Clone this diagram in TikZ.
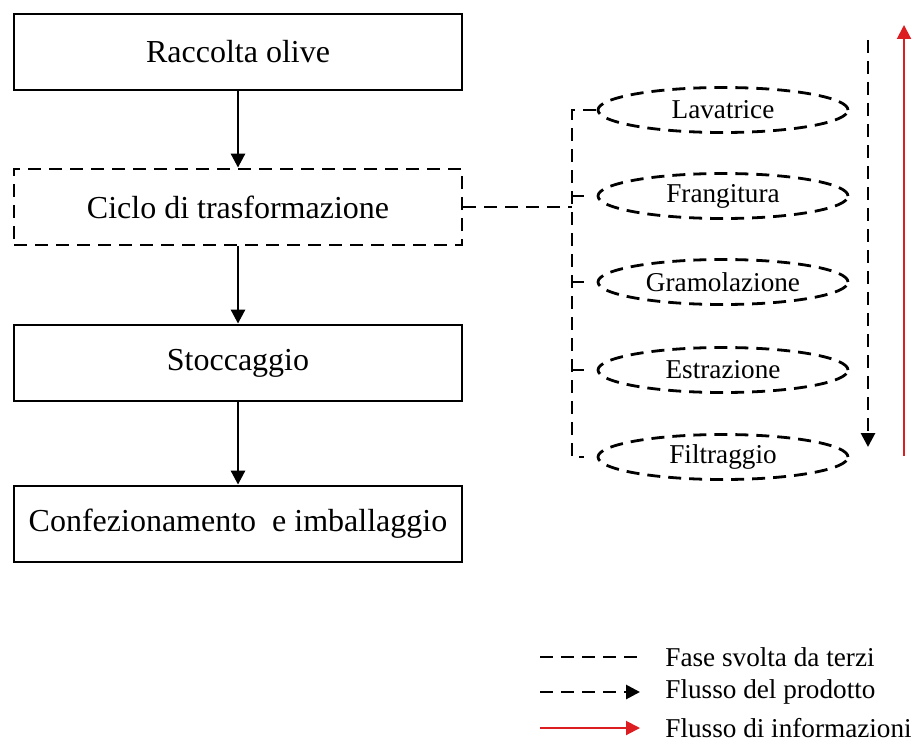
\documentclass[tikz,border=0pt]{standalone}
\usepackage{fontspec}
\setmainfont{Liberation Serif}
\usetikzlibrary{arrows.meta,shapes.geometric}
\definecolor{infored}{RGB}{220,30,35}
\tikzset{
  stage/.style={draw,line width=1.4pt,minimum width=224pt,minimum height=38pt,inner sep=0pt,font=\fontsize{16}{19}\selectfont},
  thirdparty/.style={dash pattern=on 6.5pt off 4pt},
  phase/.style={ellipse,draw,thirdparty,line width=1.4pt,minimum width=125pt,minimum height=22.5pt,inner sep=0pt,font=\fontsize{13.6}{16}\selectfont},
  flow/.style={-{Triangle[length=7pt,width=7pt]},line width=1.4pt},
  keytext/.style={anchor=west,inner sep=0pt,font=\fontsize{13.6}{16}\selectfont}
}
\begin{document}
\begin{tikzpicture}[x=0.5pt,y=-0.5pt]
\useasboundingbox (0,0) rectangle (914,749);

% main chain
\node[stage] (raccolta) at (238,52) {Raccolta olive};
\node[stage,thirdparty] (ciclo) at (238,207) {Ciclo di trasformazione};
\node[stage] (stoccaggio) at (238,363) {Stoccaggio};
\node[stage] (confez) at (238,524) {Confezionamento\ \ e imballaggio};
\draw[flow] (raccolta) -- (ciclo);
\draw[flow] (ciclo) -- (stoccaggio);
\draw[flow] (stoccaggio) -- (confez);

% phases of the cycle
\node[phase] (lav) at (723,110) {Lavatrice};
\node[phase] (fra) at (723,196) {Frangitura};
\node[phase] (gra) at (723,282) {Gramolazione};
\node[phase] (est) at (723,370) {Estrazione};
\node[phase] (fil) at (723,457) {Filtraggio};

\coordinate (rail) at (572,0);
\draw[thirdparty,line width=1.4pt] ([xshift=12]rail |- lav) -- (rail |- lav) -- (rail |- fil) -- ++(12,0);
\foreach \p in {fra,gra,est}
  \draw[thirdparty,line width=1.4pt] (rail |- \p) -- ++(12,0);
\draw[thirdparty,line width=1.4pt] (ciclo.east) -- (rail |- ciclo.east);

% flows
\coordinate (pstart) at (868,40);
\coordinate (pend) at (868,447);
\draw[flow,thirdparty] (pstart) -- (pend);
\coordinate (istart) at (904,456);
\coordinate (iend) at (904,25);
\draw[flow,infored,line width=1pt] (istart) -- (iend);

% legend
\node[keytext] (key1) at (665,657) {Fase svolta da terzi};
\node[keytext] (key2) at (665,692) {Flusso del prodotto};
\node[keytext] (key3) at (665,728) {Flusso di informazioni};
\coordinate (k1) at (540,657);
\coordinate (k2) at (540,692);
\coordinate (k3) at (540,728);
\draw[thirdparty,line width=1.4pt] (k1) -- ++(100,0);
\draw[flow,thirdparty] (k2) -- ++(100,0);
\draw[flow,infored,line width=1pt] (k3) -- ++(100,0);
\end{tikzpicture}
\end{document}
